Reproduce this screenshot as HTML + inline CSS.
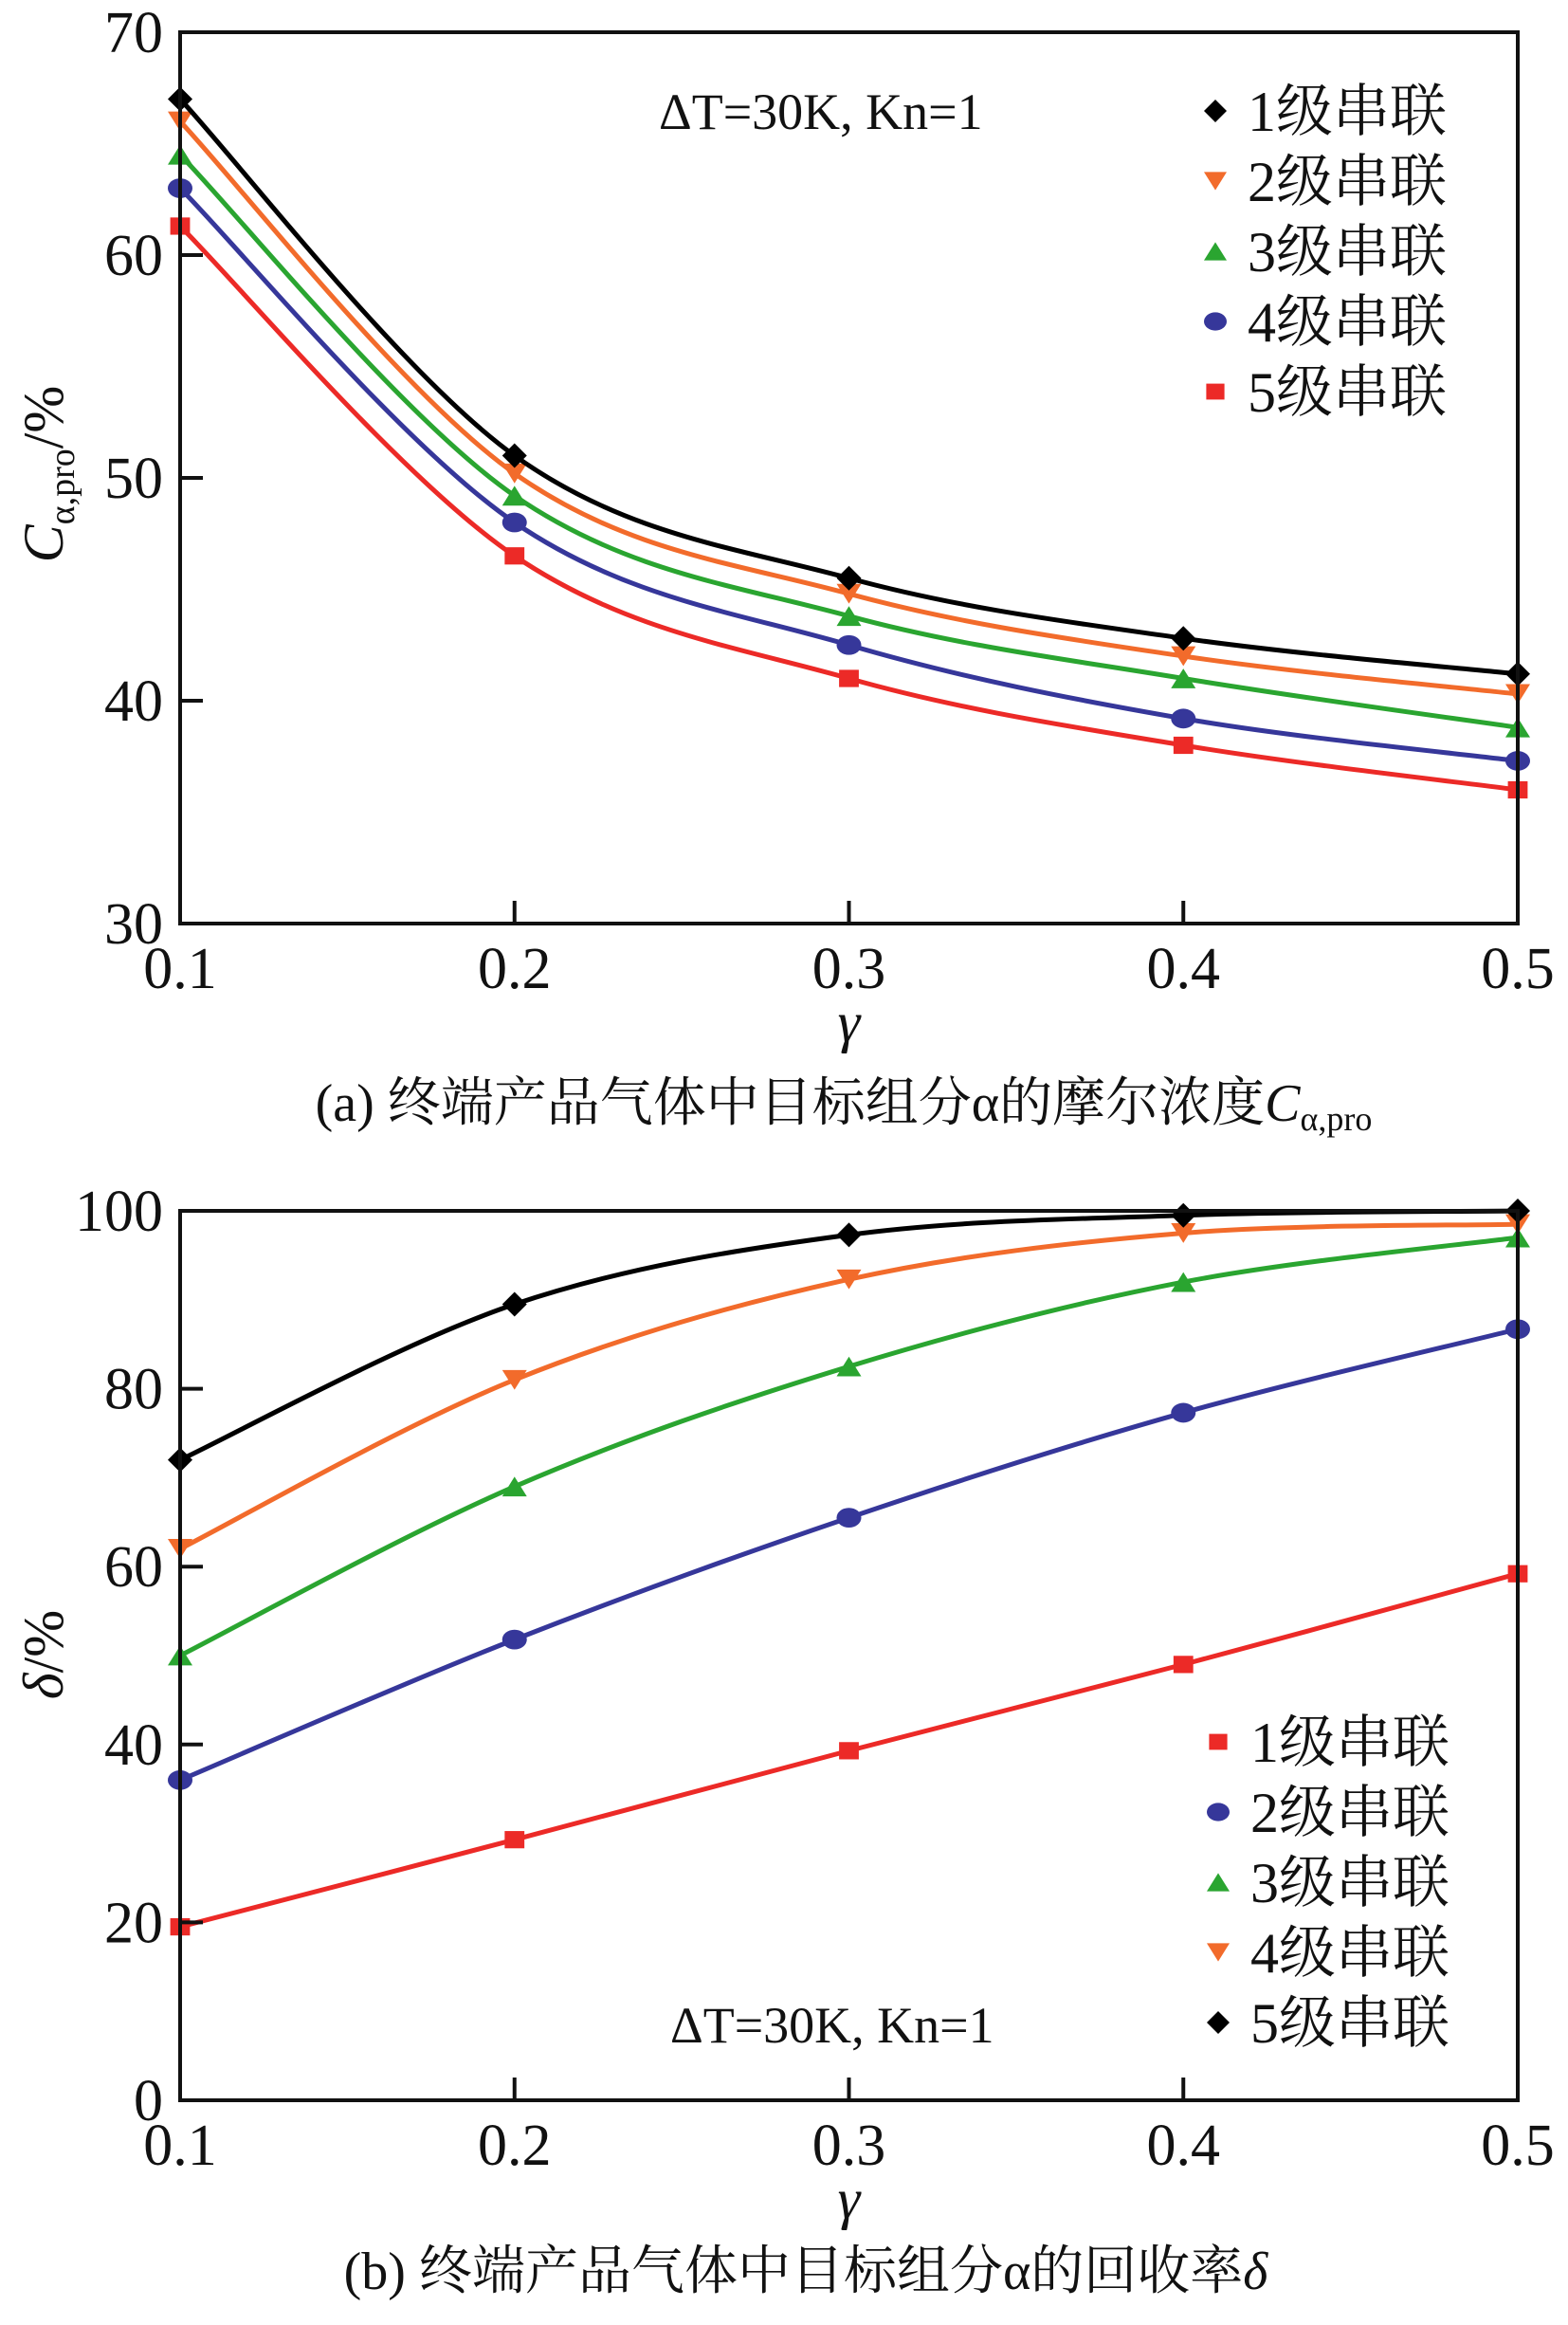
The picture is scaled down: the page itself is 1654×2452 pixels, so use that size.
<!DOCTYPE html>
<html><head><meta charset="utf-8"><style>
html,body{margin:0;padding:0;background:#fff}
svg{display:block}
text{font-family:"Liberation Serif","Times New Roman","Noto Serif CJK SC",serif;fill:#111}
</style></head><body>
<svg id="svg" width="1654" height="2452" viewBox="0 0 1654 2452" xmlns="http://www.w3.org/2000/svg" style="position:absolute;left:0;top:0">
<g id="pa"></g>
<g id="pb"></g>
<text x="695" y="136" font-size="54" font-family="Liberation Serif, serif">ΔT=30K, Kn=1</text>
<text x="707" y="2154" font-size="54" font-family="Liberation Serif, serif">ΔT=30K, Kn=1</text>
<text transform="translate(66,500) rotate(-90)" text-anchor="middle" font-size="60" font-family="Liberation Serif, serif"><tspan font-style="italic">C</tspan><tspan font-size="38" dy="12">α,pro</tspan><tspan dy="-12">/%</tspan></text>
<text transform="translate(66,1745) rotate(-90)" text-anchor="middle" font-size="60" font-family="Liberation Serif, serif"><tspan font-style="italic">δ</tspan>/%</text>
<text x="890" y="1182" text-anchor="middle" font-size="56" font-family="Liberation Serif, Noto Serif CJK SC, serif">(a) 终端产品气体中目标组分α的摩尔浓度<tspan font-style="italic">C</tspan><tspan font-size="36" dy="10">α,pro</tspan></text>
<text x="850" y="2414" text-anchor="middle" font-size="56" font-family="Liberation Serif, Noto Serif CJK SC, serif">(b) 终端产品气体中目标组分α的回收率<tspan font-style="italic">δ</tspan></text>
</svg>
<script>
const xCats=[0.1,0.2,0.3,0.4,0.5];
const xTickLabels=["0.1","0.2","0.3","0.4","0.5"];
const aTicks=[30,40,50,60,70];
const bTicks=[0,20,40,60,80,100];
const aStage1=[67,51,45.5,42.8,41.2];
const aStage2=[66,50.2,44.8,42,40.3];
const aStage3=[64.5,49.2,43.8,41,38.8];
const aStage4=[63,48,42.5,39.2,37.3];
const aStage5=[61.3,46.5,41,38,36];
const bStage1=[19.5,29.3,39.3,49,59.2];
const bStage2=[36,51.8,65.5,77.3,86.7];
const bStage3=[50,69,82.5,92,97];
const bStage4=[62,81,92.3,97.5,98.5];
const bStage5=[72,89.5,97.3,99.5,100];
const labels=["1级串联","2级串联","3级串联","4级串联","5级串联"];

const NS="http://www.w3.org/2000/svg";
function mk(p,tag,at,txt){const e=document.createElementNS(NS,tag);for(const k in at)e.setAttribute(k,at[k]);if(txt!==undefined)e.textContent=txt;p.appendChild(e);return e;}
const X0=190,X1=1601;
function sx(v){return X0+(v-0.1)/0.4*(X1-X0);}
function marker(g,shape,x,y,c,s){
  let e;
  if(shape==='diamond')e=mk(g,'polygon',{points:`${x},${y-s} ${x+s},${y} ${x},${y+s} ${x-s},${y}`,fill:c});
  else if(shape==='down')e=mk(g,'polygon',{points:`${x-s},${y-s*0.8} ${x+s},${y-s*0.8} ${x},${y+s*0.8}`,fill:c});
  else if(shape==='up')e=mk(g,'polygon',{points:`${x-s},${y+s*0.8} ${x+s},${y+s*0.8} ${x},${y-s*0.8}`,fill:c});
  else if(shape==='circle')e=mk(g,'ellipse',{cx:x,cy:y,rx:s,ry:s*0.8,fill:c});
  else e=mk(g,'rect',{x:x-s*0.8,y:y-s*0.7,width:s*1.6,height:s*1.4,fill:c});
  return e;
}
function curve(pts){
  let d=`M${pts[0][0]},${pts[0][1]}`;
  for(let i=0;i<pts.length-1;i++){
    const p0=pts[Math.max(0,i-1)],p1=pts[i],p2=pts[i+1],p3=pts[Math.min(pts.length-1,i+2)];
    const c1=[p1[0]+(p2[0]-p0[0])/6,p1[1]+(p2[1]-p0[1])/6];
    const c2=[p2[0]-(p3[0]-p1[0])/6,p2[1]-(p3[1]-p1[1])/6];
    d+=` C${c1[0]},${c1[1]} ${c2[0]},${c2[1]} ${p2[0]},${p2[1]}`;
  }
  return d;
}
function chart(g,cfg){
  const sy=v=>cfg.Y0+(v-cfg.ymin)/(cfg.ymax-cfg.ymin)*(cfg.Y1-cfg.Y0);
  cfg.series.forEach((s,i)=>{
    const pts=s.data.map((v,j)=>[sx(xCats[j]),sy(v)]);
    const p=mk(g,'path',{d:curve(pts),fill:'none',stroke:s.color,'stroke-width':5});
    
    
    pts.forEach((q,j)=>{const m=marker(g,s.shape,q[0],q[1],s.color,13);
      
      });
  });
  const fr=mk(g,'rect',{x:X0,y:cfg.Y1,width:X1-X0,height:cfg.Y0-cfg.Y1,fill:'none',stroke:'#111','stroke-width':4});
  
  
  cfg.yt.forEach(v=>{const y=sy(v);
    mk(g,'line',{x1:X0,x2:X0+24,y1:y,y2:y,stroke:'#111','stroke-width':4});
    const t=mk(g,'text',{x:X0-18,y:y+21,'text-anchor':'end','font-size':62,'font-family':'Liberation Serif, serif'},String(v));
    
    });
  xCats.forEach((v,j)=>{const x=sx(v);
    mk(g,'line',{x1:x,x2:x,y1:cfg.Y0,y2:cfg.Y0-24,stroke:'#111','stroke-width':4});
    const t=mk(g,'text',{x:x,y:cfg.Y0+68,'text-anchor':'middle','font-size':62,'font-family':'Liberation Serif, serif'},xTickLabels[j]);
    
    });
  const xt=mk(g,'text',{x:(X0+X1)/2,y:cfg.Y0+124,'text-anchor':'middle','font-size':60,'font-style':'italic','font-family':'Liberation Serif, serif'},'γ');
  
  
  cfg.legend.forEach((s,i)=>{const y=cfg.ly+i*74;
    const m=marker(g,s.shape,cfg.lx,y,s.color,12);
    
    
    const t=mk(g,'text',{x:cfg.lx+34,y:y+21,'font-size':60,'font-family':'Liberation Serif, Noto Serif CJK SC, serif'},s.label);
    
    });
}
const blk='#000',org='#f26b2b',grn='#2aa530',blu='#36379a',red='#ec2a27';
const ga=document.getElementById('pa');
chart(ga,{Y0:974,Y1:34,ymin:30,ymax:70,yt:aTicks,lx:1282,ly:117,
 series:[{key:'a-stage5',data:aStage5,color:red,shape:'square'},{key:'a-stage4',data:aStage4,color:blu,shape:'circle'},{key:'a-stage3',data:aStage3,color:grn,shape:'up'},{key:'a-stage2',data:aStage2,color:org,shape:'down'},{key:'a-stage1',data:aStage1,color:blk,shape:'diamond'}],
 legend:[{shape:'diamond',color:blk,label:labels[0]},{shape:'down',color:org,label:labels[1]},{shape:'up',color:grn,label:labels[2]},{shape:'circle',color:blu,label:labels[3]},{shape:'square',color:red,label:labels[4]}]});
const gb=document.getElementById('pb');
chart(gb,{Y0:2215,Y1:1277,ymin:0,ymax:100,yt:bTicks,lx:1285,ly:1837,
 series:[{key:'b-stage1',data:bStage1,color:red,shape:'square'},{key:'b-stage2',data:bStage2,color:blu,shape:'circle'},{key:'b-stage3',data:bStage3,color:grn,shape:'up'},{key:'b-stage4',data:bStage4,color:org,shape:'down'},{key:'b-stage5',data:bStage5,color:blk,shape:'diamond'}],
 legend:[{shape:'square',color:red,label:labels[0]},{shape:'circle',color:blu,label:labels[1]},{shape:'up',color:grn,label:labels[2]},{shape:'down',color:org,label:labels[3]},{shape:'diamond',color:blk,label:labels[4]}]});
</script>
</body></html>
